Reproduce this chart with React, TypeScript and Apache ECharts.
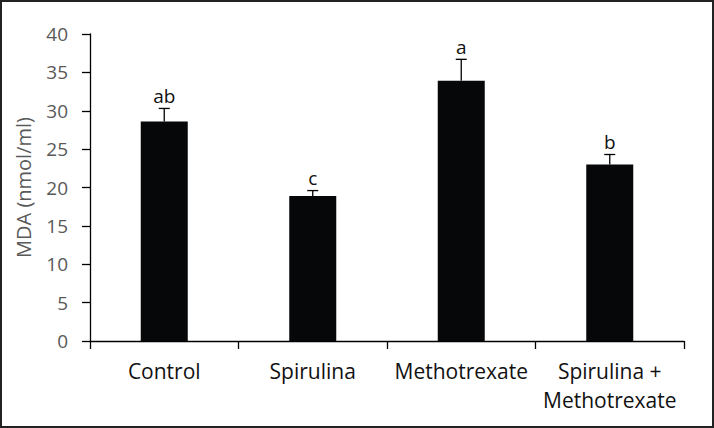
import React, { useEffect, useRef } from "react";
import * as echarts from "echarts";

const categories = ["Control", "Spirulina", "Methotrexate", "Spirulina +\nMethotrexate"];
const means = [28.6, 18.9, 33.9, 23.0];
const errors = [1.7, 0.7, 2.8, 1.3];
const letters = ["ab", "c", "a", "b"];
const yTicks = { min: 0, max: 40, interval: 5 };

const FONT = "'Open Sans', Lato, sans-serif";

export default function App() {
  const ref = useRef<HTMLDivElement>(null);
  useEffect(() => {
    document.body.style.margin = "0";
    const chart = echarts.init(ref.current!, undefined, { renderer: "svg" });
    const errData = means.map((m, i) => [i, m, m + errors[i]]);
    chart.setOption({
      animation: false,
      backgroundColor: "transparent",
      grid: { left: 90, right: 30, top: 34, bottom: 87 },
      xAxis: {
        type: "category",
        data: categories,
        boundaryGap: true,
        axisLine: { lineStyle: { color: "#000", width: 1.3 } },
        axisTick: { show: true, alignWithLabel: false, length: 8, lineStyle: { color: "#000", width: 1.3 } },
        axisLabel: {
          color: "#111",
          fontSize: 21,
          fontFamily: FONT,
          margin: 15,
          lineHeight: 29,
          interval: 0,
        },
      },
      yAxis: {
        type: "value",
        min: yTicks.min,
        max: yTicks.max,
        interval: yTicks.interval,
        name: "MDA (nmol/ml)",
        nameLocation: "middle",
        nameGap: 57,
        nameTextStyle: { color: "#595959", fontSize: 20, fontFamily: FONT },
        splitLine: { show: false },
        axisLine: { show: true, lineStyle: { color: "#000", width: 1.3 } },
        axisTick: { show: true, length: 8, lineStyle: { color: "#000", width: 1.3 } },
        axisLabel: { color: "#595959", fontSize: 19, fontFamily: FONT, margin: 22 },
      },
      series: [
        {
          type: "bar",
          data: means,
          barWidth: 47,
          itemStyle: { color: "#050708" },
        },
        {
          type: "custom",
          data: errData,
          encode: { x: 0, y: [1, 2] },
          z: 5,
          renderItem: (params: any, api: any) => {
            const x = api.value(0);
            const base = api.coord([x, api.value(1)]);
            const top = api.coord([x, api.value(2)]);
            const cx = base[0];
            const hw = 5.5;
            return {
              type: "group",
              children: [
                {
                  type: "line",
                  shape: { x1: cx, y1: base[1], x2: cx, y2: top[1] },
                  style: { stroke: "#000", lineWidth: 1.3 },
                },
                {
                  type: "line",
                  shape: { x1: cx - hw, y1: top[1], x2: cx + hw, y2: top[1] },
                  style: { stroke: "#000", lineWidth: 1.3 },
                },
                {
                  type: "text",
                  style: {
                    text: letters[params.dataIndex],
                    x: cx,
                    y: top[1] - 3,
                    align: "center",
                    verticalAlign: "bottom",
                    fontSize: 19,
                    fontFamily: FONT,
                    fill: "#111",
                  },
                },
              ],
            };
          },
        },
      ],
    });
    return () => chart.dispose();
  }, []);
  return (
    <div style={{ position: "absolute", left: 0, top: 0, width: 714, height: 428, background: "#fff" }}>
      <div ref={ref} style={{ position: "absolute", left: 0, top: 0, width: 714, height: 428 }} />
      <div
        style={{
          position: "absolute",
          left: 0,
          top: 0,
          width: 714,
          height: 428,
          boxSizing: "border-box",
          border: "2px solid #222",
          pointerEvents: "none",
        }}
      />
    </div>
  );
}
